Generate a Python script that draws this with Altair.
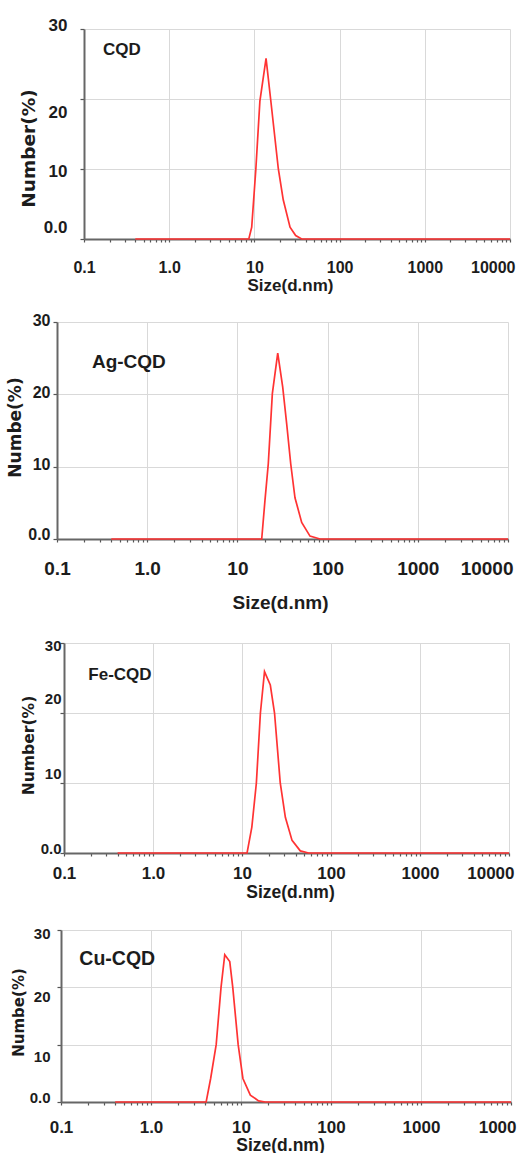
import altair as alt
import pandas as pd

# ---------------- data ----------------
x_major = [0.1, 1, 10, 100, 1000, 10000]
x_minor = [0.2, 0.3, 0.4, 0.5, 0.6, 0.7, 0.8, 0.9,
           2, 3, 4, 5, 6, 7, 8, 9,
           20, 30, 40, 50, 60, 70, 80, 90,
           200, 300, 400, 500, 600, 700, 800, 900,
           2000, 3000, 4000, 5000, 6000, 7000, 8000, 9000]
x_labels_std = ["0.1", "1.0", "10", "100", "1000", "10000"]
x_labels_cu = ["0.1", "1.0", "10", "100", "1000", "1000"]
y_ticks = [0, 5, 10, 15, 20, 25, 30]

cqd_size = [0.4, 8.6, 9.3, 10.4, 11.6, 13.7, 15.5, 19.1, 21.8, 26.2, 30.5, 35.9, 10000]
cqd_num = [0, 0, 1.7, 10, 19.7, 25.8, 20, 10, 5.6, 1.7, 0.5, 0, 0]

ag_size = [0.4, 18.6, 20.2, 22.0, 24.4, 28.0, 31.8, 35.2, 39.0, 43.5, 51.6, 63.8, 82.4, 10000]
ag_num = [0, 0, 5.3, 10.4, 20.1, 25.7, 21.0, 15.9, 10.4, 5.7, 2.3, 0.4, 0, 0]

fe_size = [0.4, 11.4, 12.9, 14.5, 16.1, 17.9, 20.8, 23.2, 26.9, 30.7, 36.5, 45.2, 56, 10000]
fe_num = [0, 0, 3.7, 10, 20, 25.9, 24.0, 20, 10, 5.1, 1.8, 0.3, 0, 0]

cu_size = [0.4, 4.1, 4.6, 5.3, 6.0, 6.6, 7.5, 8.1, 9.3, 10.5, 12.7, 15.7, 18.6, 10000]
cu_num = [0, 0, 4.1, 10, 20, 25.7, 24.5, 20, 10, 4.1, 1.2, 0.2, 0, 0]

names = ["CQD", "Ag-CQD", "Fe-CQD", "Cu-CQD"]
name_pos_size = [0.167, 0.244, 0.1875, 0.16]
name_pos_num = [27.0, 24.5, 25.4, 24.9]
y_titles = ["Number(%)", "Numbe(%)", "Number(%)", "Numbe(%)"]
x_title = "Size(d.nm)"

# ---------------- style ----------------
NARROW = "Liberation Sans"
WIDE = "DejaVu Sans"
TXT = "#1c1c1c"
RED = "#ff3333"
GRID = "#d9d9d9"
AXIS = "#666666"
FULL_W = 521
X0 = 57                 # common origin of every panel's view
VIEW_W = FULL_W - X0    # common view width

layouts = [
    dict(L=84, T=29, W=426, H=210, S0=0, S1=300, xfs=16, yfs=17, tfs=17, yts=18.5, afs=17,
         ylp=13, xlp=25, yt=(28, 148), xt=(290, 285), ydy={30: -4, 20: 13, 10: 2, 0: -12}),
    dict(L=57, T=322, W=451, H=217, S0=300, S1=618, xfs=19, yfs=16, tfs=19, yts=17, afs=19,
         ylp=3, xlp=26, yt=(15, 427), xt=(280, 602), ydy={30: -2, 20: -2, 10: -2, 0: -5}),
    dict(L=64, T=643, W=445, H=210, S0=618, S1=905, xfs=17, yfs=15, tfs=17.5, yts=15.6, afs=17,
         ylp=-1, xlp=17, yt=(28, 745), xt=(290, 892), ydy={30: 2, 20: -15, 10: -10, 0: -5}),
    dict(L=61, T=930, W=450, H=172, S0=905, S1=1153, xfs=17, yfs=15, tfs=17.5, yts=15, afs=19.5,
         ylp=7, xlp=22, yt=(18, 1012), xt=(280, 1145), ydy={30: 3, 20: 9, 10: 12, 0: -5}),
]

series = [(cqd_size, cqd_num), (ag_size, ag_num), (fe_size, fe_num), (cu_size, cu_num)]
xlabel_sets = [x_labels_std, x_labels_std, x_labels_std, x_labels_cu]


def make_panel(i):
    lay = layouts[i]
    size, num = series[i]
    df = pd.DataFrame({"size": size, "num": num})
    labels = xlabel_sets[i]
    label_expr = " : ".join(f"datum.value == {v} ? '{l}'" for v, l in zip(x_major, labels)) + " : ''"
    major_test = f"indexof({x_major}, datum.value) >= 0"
    shift = lay["L"] - X0
    y_label_offset = {
        "condition": [{"test": f"datum.value == {v}", "value": d} for v, d in lay["ydy"].items()],
        "value": 0,
    }

    xaxis = alt.Axis(
        values=x_major + x_minor, labelExpr=label_expr, grid=True,
        gridOpacity={"condition": {"test": major_test, "value": 1}, "value": 0},
        gridColor=GRID, gridWidth=1,
        tickSize=3, tickColor="#555555", tickWidth=1.2,
        domainColor=AXIS, domainWidth=2,
        labelFlush=False, labelOverlap=False, labelBound=False,
        labelAlign={"condition": {"test": "datum.value == 10000", "value": "right"}, "value": "center"},
        labelOffset={"condition": {"test": "datum.value == 10000", "value": 5}, "value": 0},
        labelBaseline="middle", labelPadding=lay["xlp"],
        labelFont=NARROW, labelFontSize=lay["xfs"], labelFontWeight="bold", labelColor=TXT,
        title=x_title, titleFont=NARROW, titleFontSize=lay["tfs"], titleFontWeight="bold",
        titleColor=TXT, titleX=lay["xt"][0] - X0, titleY=lay["xt"][1] - (lay["T"] + lay["H"]),
        titleAlign="center", titleBaseline="middle",
    )
    yaxis_kw = dict(
        values=y_ticks,
        labelExpr="datum.value == 0 ? '0.0' : (datum.value % 10 == 0 ? datum.label : '')",
        grid=True,
        gridOpacity={"condition": {"test": "datum.value % 10 == 0", "value": 1}, "value": 0},
        gridColor=GRID, gridWidth=1,
        tickSize=4, tickColor="#555555", tickWidth=1.2,
        domainColor=AXIS, domainWidth=2,
        labelPadding=lay["ylp"], labelBaseline="middle", labelOverlap=False, labelBound=False,
        labelOffset=y_label_offset,
        labelFont=NARROW, labelFontSize=lay["yfs"], labelFontWeight="bold", labelColor=TXT,
        title=y_titles[i], titleFont=WIDE, titleFontSize=lay["yts"], titleFontWeight="bold",
        titleColor=TXT, titleAngle=270, titleX=lay["yt"][0] - lay["L"], titleY=lay["yt"][1] - lay["T"],
        titleAlign="center", titleBaseline="middle",
    )
    if shift:
        yaxis_kw["offset"] = -shift
    yaxis = alt.Axis(**yaxis_kw)

    xs = alt.Scale(type="log", domain=[0.1, 10000], nice=False, range=[shift, shift + lay["W"]])
    ys = alt.Scale(domain=[0, 30], nice=False)

    line = alt.Chart(df).mark_line(color=RED, strokeWidth=1.7).encode(
        x=alt.X("size:Q", scale=xs, axis=xaxis),
        y=alt.Y("num:Q", scale=ys, axis=yaxis),
    )
    ann_df = pd.DataFrame({"size": [name_pos_size[i]], "num": [name_pos_num[i]], "t": [names[i]]})
    ann = alt.Chart(ann_df).mark_text(
        align="left", baseline="middle", font=NARROW, fontSize=lay["afs"],
        fontWeight="bold", color=TXT,
    ).encode(x="size:Q", y="num:Q", text="t:N")
    anchor = alt.Chart(pd.DataFrame({"a": [0]})).mark_rule(strokeOpacity=0, opacity=0).encode(
        x=alt.value(-X0), x2=alt.value(FULL_W - X0),
        y=alt.value(lay["S0"] - lay["T"]), y2=alt.value(lay["S1"] - lay["T"]),
    )
    return alt.layer(line, ann, anchor).properties(width=VIEW_W, height=lay["H"])


chart = alt.vconcat(*[make_panel(i) for i in range(4)], spacing=0).properties(
    padding=0, background="white"
).configure_view(stroke=None)

chart.save("out.html", embed_options={"renderer": "svg", "actions": False})
